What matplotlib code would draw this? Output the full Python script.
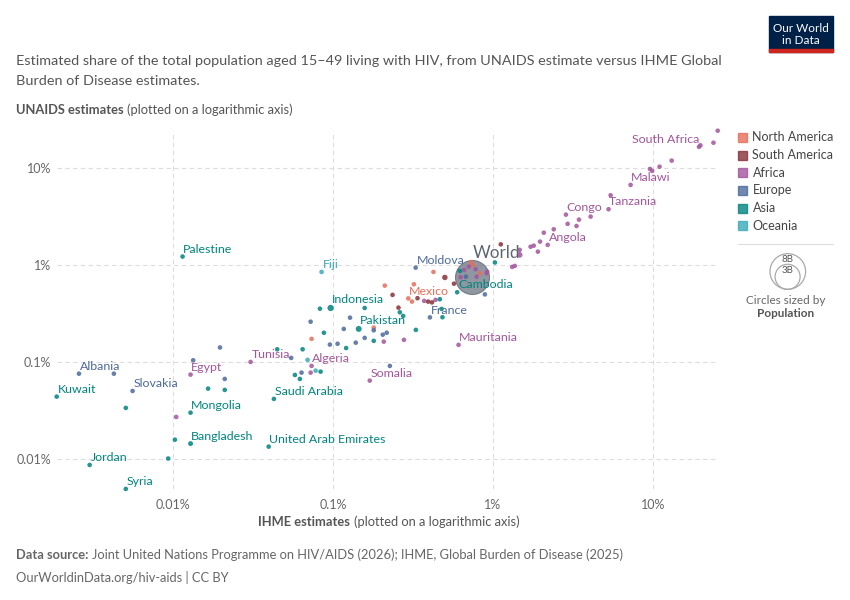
import matplotlib
matplotlib.use("Agg")
import numpy as np
import matplotlib.pyplot as plt
from matplotlib.patches import Rectangle, Circle

plt.rcParams['font.family'] = ['Lato', 'DejaVu Sans']

W, H = 850, 600

colors = {
    'North America': '#E56E5A',
    'South America': '#883039',
    'Africa': '#A2559C',
    'Europe': '#4C6A9C',
    'Asia': '#00847E',
    'Oceania': '#38AABA',
}

# labelled entities: IHME % (x), UNAIDS % (y), population in millions
label_names = ['South Africa', 'Malawi', 'Tanzania', 'Congo', 'Angola', 'Moldova',
               'Cambodia', 'Mexico', 'France', 'Mauritania', 'Indonesia', 'Pakistan',
               'Fiji', 'Palestine', 'Tunisia', 'Algeria', 'Somalia', 'Saudi Arabia',
               'United Arab Emirates', 'Egypt', 'Mongolia', 'Bangladesh', 'Albania',
               'Slovakia', 'Kuwait', 'Jordan', 'Syria']
label_cont = ['Africa', 'Africa', 'Africa', 'Africa', 'Africa', 'Europe',
              'Asia', 'North America', 'Europe', 'Africa', 'Asia', 'Asia',
              'Oceania', 'Asia', 'Africa', 'Africa', 'Africa', 'Asia',
              'Asia', 'Africa', 'Asia', 'Asia', 'Europe',
              'Europe', 'Asia', 'Asia', 'Asia']
label_ihme = [19.8, 7.25, 5.28, 2.86, 2.20, 0.329,
              0.598, 0.296, 0.404, 0.610, 0.0968, 0.145,
              0.0850, 0.0115, 0.0306, 0.0736, 0.170, 0.0428,
              0.0397, 0.0129, 0.0129, 0.0129, 0.00259,
              0.0056, 0.00188, 0.00302, 0.00508]
label_unaids = [17.1, 6.68, 3.75, 3.30, 1.61, 0.938,
                0.523, 0.452, 0.288, 0.150, 0.360, 0.219,
                0.847, 1.22, 0.100, 0.091, 0.0642, 0.0416,
                0.0134, 0.0740, 0.0300, 0.0144, 0.0757,
                0.0502, 0.0439, 0.00867, 0.00491]
label_pop = [63, 21, 68, 6, 37, 3,
             17, 130, 66, 5, 280, 250,
             1, 5, 12, 46, 18, 33,
             10, 115, 3, 173, 3,
             5, 4, 11, 23]

world_ihme, world_unaids, world_pop = 0.739, 0.752, 8100

# unlabelled countries by continent (IHME %, UNAIDS %)
africa_ihme = [19.4, 23.9, 25.4, 9.58, 9.9, 11.0, 13.1, 5.44, 2.93, 3.45, 3.33, 4.08,
               2.08, 2.40, 1.97, 1.91, 1.72, 1.80, 1.47, 1.47, 1.37, 1.32, 0.921,
               0.662, 0.708, 0.780, 0.913, 0.791, 0.628, 0.372, 0.438, 0.278, 0.208,
               0.0726, 0.0105]
africa_unaids = [16.5, 18.2, 24.2, 9.77, 9.31, 10.3, 11.9, 5.23, 2.65, 2.93, 2.52, 3.15,
                 2.15, 2.33, 1.74, 1.37, 1.54, 1.58, 1.43, 1.27, 0.977, 0.954, 0.853,
                 0.888, 0.961, 0.903, 0.821, 0.757, 0.747, 0.426, 0.436, 0.169, 0.162,
                 0.0776, 0.0271]
africa_pop = [10] * 19 + [230] + [10] * 15

samerica_ihme = [1.12, 0.501, 0.571, 0.236, 0.338, 0.394, 0.416, 0.257]
samerica_unaids = [1.63, 0.743, 0.641, 0.491, 0.454, 0.419, 0.411, 0.363]
samerica_pop = [10, 211, 10, 10, 10, 10, 10, 10]

namerica_ihme = [0.425, 0.729, 0.753, 0.830, 0.312, 0.321, 0.211, 0.180, 0.0736]
namerica_unaids = [0.847, 1.07, 1.0, 0.821, 0.419, 0.632, 0.612, 0.226, 0.173]

europe_ihme = [0.891, 0.678, 0.205, 0.217, 0.227, 0.0726, 0.128, 0.117, 0.180, 0.139,
               0.158, 0.0958, 0.107, 0.0549, 0.0637, 0.0197, 0.0134, 0.0211, 0.00428]
europe_unaids = [0.497, 0.757, 0.191, 0.200, 0.091, 0.260, 0.286, 0.219, 0.212, 0.158,
                 0.177, 0.151, 0.154, 0.110, 0.0776, 0.141, 0.104, 0.0668, 0.0757]

asia_ihme = [1.03, 0.622, 0.466, 0.262, 0.275, 0.478, 0.484, 0.330, 0.083, 0.158,
             0.0879, 0.180, 0.121, 0.0647, 0.0449, 0.0838, 0.0579, 0.0622, 0.0166,
             0.0211, 0.0103, 0.00935, 0.00508]
asia_unaids = [1.06, 0.867, 0.443, 0.325, 0.298, 0.352, 0.289, 0.214, 0.354, 0.360,
               0.200, 0.165, 0.139, 0.135, 0.135, 0.0794, 0.0734, 0.0668, 0.0531,
               0.0515, 0.0158, 0.0101, 0.0336]

oceania_ihme = [0.0695, 0.078]
oceania_unaids = [0.105, 0.0813]

ticks = [0.01, 0.1, 1, 10]
tick_labels = ['0.01%', '0.1%', '1%', '10%']


def msize(pop):
    r = np.maximum(2.3, 17 * np.sqrt(np.asarray(pop, float) / 8100.0))
    return (2 * r * 0.72) ** 2


fig = plt.figure(figsize=(W / 100, H / 100), dpi=100)
ax = fig.add_axes([56.7 / W, 1 - 489 / H, (717.7 - 56.7) / W, (489 - 130.7) / H])
ax.set_xscale('log')
ax.set_yscale('log')
ax.set_xlim(0.00188, 25.4)
ax.set_ylim(0.0049, 24.2)
for s in ax.spines.values():
    s.set_visible(False)
ax.set_xticks(ticks)
ax.set_xticklabels(tick_labels)
ax.set_yticks(ticks)
ax.set_yticklabels(tick_labels)
ax.minorticks_off()
ax.tick_params(length=0, labelsize=9, labelcolor='#666666')
ax.tick_params(axis='x', pad=7)
ax.tick_params(axis='y', pad=4)
ax.grid(True, color='#dddddd', linestyle=(0, (4, 3)), linewidth=0.8)
ax.set_axisbelow(True)

# world bubble first
ax.scatter([world_ihme], [world_unaids], s=msize([world_pop]), color='#6b7482',
           alpha=0.75, edgecolor='#5c6470', linewidth=0.8, clip_on=False, zorder=2)

groups = [
    ('Africa', africa_ihme, africa_unaids, africa_pop),
    ('South America', samerica_ihme, samerica_unaids, samerica_pop),
    ('North America', namerica_ihme, namerica_unaids, [10] * len(namerica_ihme)),
    ('Europe', europe_ihme, europe_unaids, [10] * len(europe_ihme)),
    ('Asia', asia_ihme, asia_unaids, [10] * len(asia_ihme)),
    ('Oceania', oceania_ihme, oceania_unaids, [10] * len(oceania_ihme)),
]
for cont, xs, ys, pops in groups:
    ax.scatter(xs, ys, s=msize(pops), color=colors[cont], alpha=0.85,
               linewidth=0, clip_on=False, zorder=3)

ax.scatter(label_ihme, label_unaids, s=msize(label_pop),
           color=[colors[c] for c in label_cont], alpha=0.85, linewidth=0,
           clip_on=False, zorder=3)

# label offsets in pixels (dx, dy up)
special = {'South Africa': (-1, 5.5, 'right'), 'Indonesia': (1, 8.7, 'left'),
           'Pakistan': (1, 8.3, 'left')}
for name, cont, x, y in zip(label_names, label_cont, label_ihme, label_unaids):
    dx, dy, ha = special.get(name, (0.8, 7.3, 'left'))
    ax.annotate(name, (x, y), xytext=(dx * 0.72, dy * 0.72), textcoords='offset points',
                ha=ha, va='center', fontsize=8.9, color=colors[cont], zorder=5,
                annotation_clip=False)
ax.annotate('World', (world_ihme, world_unaids), xytext=(0.5 * 0.72, 24 * 0.72),
            textcoords='offset points', ha='left', va='center', fontsize=12.3,
            color='#5f6670', zorder=5, annotation_clip=False)

# overlay in pixel coordinates
ov = fig.add_axes([0, 0, 1, 1], zorder=10)
ov.set_xlim(0, W)
ov.set_ylim(H, 0)
ov.axis('off')

renderer = fig.canvas.get_renderer()


def two_part(x, y, bold, rest, size, color, ha='left', gap=3.5):
    t1 = ov.text(x, y, bold, fontsize=size, fontweight='bold', color=color, va='center')
    t2 = ov.text(x, y, rest, fontsize=size, color=color, va='center')
    w1 = t1.get_window_extent(renderer).width
    w2 = t2.get_window_extent(renderer).width
    x0 = x - (w1 + gap + w2) / 2 if ha == 'center' else x
    t1.set_x(x0)
    t2.set_x(x0 + w1 + gap)


ov.text(16, 61, 'Estimated share of the total population aged 15–49 living with HIV, from '
        'UNAIDS estimate versus IHME Global', fontsize=10.4, color='#555555', va='center')
ov.text(16, 81, 'Burden of Disease estimates.', fontsize=10.4, color='#555555', va='center')
two_part(16, 110, 'UNAIDS estimates', '(plotted on a logarithmic axis)', 9.3, '#555555')
two_part(389, 522, 'IHME estimates', '(plotted on a logarithmic axis)', 9.3, '#555555',
         ha='center')
two_part(16, 555, 'Data source:', 'Joint United Nations Programme on HIV/AIDS (2026); '
         'IHME, Global Burden of Disease (2025)', 9.3, '#666666')
ov.text(16, 577, 'OurWorldinData.org/hiv-aids | CC BY', fontsize=9.3, color='#666666',
        va='center')

# logo
ov.add_patch(Rectangle((769, 16), 64, 36, color='#002147', zorder=1))
ov.add_patch(Rectangle((769, 49), 64, 3, color='#ce261e', zorder=2))
ov.text(801, 28, 'Our World', color='white', fontsize=8.5, ha='center', va='center')
ov.text(801, 41, 'in Data', color='white', fontsize=8.5, ha='center', va='center')

# legend
legend_rows = ['North America', 'South America', 'Africa', 'Europe', 'Asia', 'Oceania']
for i, cont in enumerate(legend_rows):
    yc = 137.3 + i * 17.7
    ov.add_patch(Rectangle((738.3, yc - 4.5), 9, 9, color=colors[cont], alpha=0.8))
    ov.text(752.5, yc, cont, fontsize=9, color='#444444', va='center')
ov.plot([738, 833], [244, 244], color='#dddddd', linewidth=0.8)
ov.add_patch(Circle((787.8, 271.5), 17.8, fill=False, edgecolor='#aaaaaa', linewidth=0.9))
ov.add_patch(Circle((787.6, 276.8), 12.5, fill=False, edgecolor='#aaaaaa', linewidth=0.9))
ov.text(787.8, 259.5, '8B', fontsize=7, color='#555555', ha='center', va='center')
ov.text(787.6, 270.5, '3B', fontsize=7, color='#555555', ha='center', va='center')
ov.text(786, 300, 'Circles sized by', fontsize=8.5, color='#666666', ha='center', va='center')
ov.text(786, 313.5, 'Population', fontsize=8.5, fontweight='bold', color='#555555',
        ha='center', va='center')

fig.savefig('out.png', dpi=100)
